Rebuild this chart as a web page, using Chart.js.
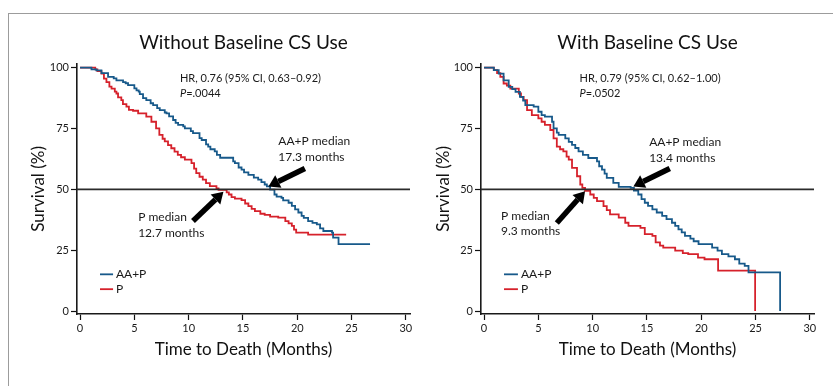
<!DOCTYPE html>
<html><head><meta charset="utf-8">
<script src="https://cdn.jsdelivr.net/npm/chart.js@4"></script>
<style>
html,body{margin:0;padding:0;background:#fff;width:833px;height:386px;overflow:hidden}
#frame{position:absolute;left:8px;top:13px;width:900px;height:400px;border-top:1px solid #9c9c9c;border-left:1px solid #9c9c9c}
canvas{position:absolute;top:0}
</style></head><body>
<div id="frame"></div>
<canvas id="c1" width="416" height="386" style="left:0"></canvas>
<canvas id="c2" width="417" height="386" style="left:416px"></canvas>
<script>
// ---- data ----
const xTicks = [0, 5, 10, 15, 20, 25, 30];
const yTicks = [0, 25, 50, 75, 100];
const medianLevel = 50;
const seriesNames = ['AA+P', 'P'];
const panelTitles = ['Without Baseline CS Use', 'With Baseline CS Use'];
const hrTexts = ['HR, 0.76 (95% CI, 0.63\u20130.92)', 'HR, 0.79 (95% CI, 0.62\u20131.00)'];
const pValues = ['=.0044', '=.0502'];
const aapMedians = ['17.3 months', '13.4 months'];
const pMedians = ['12.7 months', '9.3 months'];

// Without baseline CS use
const noCsAapTime = [0,1.05,1.5,1.97,2.58,3.1,3.35,3.96,4.2,4.42,5.0,5.2,5.4,5.5,5.8,6.1,6.5,6.73,7.1,7.34,7.8,7.96,8.2,8.57,8.8,9.03,9.5,9.65,10.2,10.4,11.0,11.2,11.6,11.8,12.0,12.4,12.6,12.9,14.1,14.26,14.6,14.87,15.1,15.5,16.0,16.4,16.7,17.0,17.2,17.5,17.9,18.1,18.55,18.7,19.2,19.5,19.8,20.1,20.4,20.6,21.0,21.4,21.8,22.1,22.4,23.2,23.3,23.8,26.7];
const noCsAapSurv = [100,99.3,98.9,97.8,96.2,95.6,94.8,94.1,93.6,92.8,91.5,90.7,90.2,89.1,87.5,86.7,85.4,84.6,83.4,82.6,81.6,81.2,80,78.5,77.3,76.5,75.9,75.1,73.9,73.1,71.1,70.3,68.5,67.6,66.5,65.6,64.2,63.0,61.5,60.8,59.0,58.1,57.0,56.0,54.8,54.0,53.0,52.0,51.2,49.9,47.9,47.0,46.5,45.5,44.5,43.2,41.8,40.5,39.1,38.3,37.0,36.2,35.6,34.0,32.9,32.2,30.2,27.5,27.5];
const noCsPTime = [0,1.4,1.6,1.97,2.2,2.43,2.7,2.9,3.2,3.35,3.5,3.8,3.95,4.27,4.5,4.88,5.35,6.1,6.57,7.0,7.3,7.6,7.8,8.1,8.4,8.7,9.0,9.3,9.65,10.26,10.5,10.7,11.0,11.3,11.6,11.95,12.56,12.75,13.5,13.7,13.95,14.26,14.87,15.2,15.5,15.8,16.1,16.6,17.0,17.5,18.25,18.9,19.2,19.5,19.7,19.9,21.0,24.5];
const noCsPSurv = [100,99.3,98.6,97.6,95.5,94.1,92.2,91.4,90.2,89.4,87.8,86.7,85.0,84.0,82.7,82.3,81.2,79.9,77.8,75.1,72.4,70.8,69.7,68.2,66.9,65.5,64.2,63.2,62.2,60.8,58.5,56.7,55.2,54.0,52.6,51.3,50.4,49.8,48.8,47.9,46.8,46.2,45.6,44.2,43.1,42.0,41.1,40.0,39.5,38.8,38.4,37.0,36.0,35.0,33.5,32.2,31.4,31.4];

// With baseline CS use
const csAapTime = [0,0.9,1.35,1.8,2.27,2.6,2.9,3.3,3.6,3.8,4.57,5.0,5.3,5.6,6.26,6.4,6.7,6.87,7.48,7.8,8.1,8.4,8.7,9.1,9.6,10.4,10.6,10.86,11.1,11.3,11.9,12.4,13.5,13.8,14.2,14.5,14.8,15.1,15.5,15.9,16.4,16.8,17.3,17.6,17.9,18.2,18.5,19.0,19.3,19.75,21.0,21.5,21.9,22.5,23.1,23.5,24.0,24.35,27.26,27.26];
const csAapSurv = [100,99,97.6,94.8,92.1,91.2,90.1,88,86.5,84.6,84,81.9,80.5,79.9,77.8,75.1,73.3,72.4,71,69.5,68.3,67,65.6,64.2,62.9,61.5,59.5,58.1,56.5,54.7,52.7,51,50.6,49.5,47.9,46,44.5,43.2,41.8,40.5,39.1,37.8,36.3,35,33.6,32.3,30.9,29.8,28.7,27.5,26.1,24.8,23.4,22.5,21.3,19.5,18.6,15.9,15.9,0];
const csPTime = [0,0.9,1.2,1.5,1.8,2.1,2.42,3.2,3.4,3.65,3.96,4.4,5.0,5.3,5.6,6.1,6.4,6.7,7.0,7.3,7.6,7.8,8.1,8.56,8.86,9.05,9.3,9.78,10.1,10.4,11.0,11.3,11.6,12.4,13.0,13.3,14.4,14.8,15.5,15.8,16.2,16.5,17.6,18.3,18.8,19.7,20.3,21.55,24.96,24.96];
const csPSurv = [100,99,97.8,96.2,93.5,92.6,91.4,89.4,88,86.7,82.6,80.5,79.2,77.8,76.5,74.4,71,67.6,66.5,65.6,63.5,62.2,58.8,55.4,52,50.6,49.4,47.9,46.5,45.2,43.1,41.5,39.7,38.4,36.3,35,34.2,31.6,30.9,28.2,26.9,26.1,24.8,23.8,23.4,22,21.3,16.6,16.6,0];

// ---- annotation placement (in axis units) ----
const notePlacement = [
  {hr:[9.2,95.5], p:[9.2,89.4], aapLbl:[18.25,69.8], pLbl:[5.35,38.4],
   aapArrow:[20.7,58.6,17.35,51.2], pArrow:[10.4,37.0,13.2,49.0], legend:[1.84,3.04,3.3,15.1,9.0]},
  {hr:[8.8,95.5], p:[8.8,89.4], aapLbl:[15.2,69.4], pLbl:[1.56,39.2],
   aapArrow:[17.1,58.6,13.75,51.2], pArrow:[6.7,36.2,9.3,49.2], legend:[1.84,3.12,3.4,15.1,9.0]}
];

const BLUE = '#17598a', RED = '#d6212b', INK = '#1a1a1a';
const FONT = 'Lato';
Chart.defaults.font.family = FONT;
Chart.defaults.color = INK;

function pts(t, s){ return t.map((v,i)=>({x:v, y:s[i]})); }

function arrow(ctx, x1, y1, x2, y2){
  const ang = Math.atan2(y2-y1, x2-x1);
  const headLen = 11, headHalf = 7, shaft = 5.5;
  const bx = x2 - headLen*Math.cos(ang), by = y2 - headLen*Math.sin(ang);
  ctx.save();
  ctx.strokeStyle = '#000'; ctx.fillStyle = '#000';
  ctx.lineWidth = shaft; ctx.lineCap = 'butt';
  ctx.beginPath(); ctx.moveTo(x1,y1); ctx.lineTo(bx,by); ctx.stroke();
  const nx = -Math.sin(ang), ny = Math.cos(ang);
  ctx.beginPath();
  ctx.moveTo(x2,y2);
  ctx.lineTo(bx + nx*headHalf, by + ny*headHalf);
  ctx.lineTo(bx - nx*headHalf, by - ny*headHalf);
  ctx.closePath(); ctx.fill();
  ctx.restore();
}

const notesPlugin = {
  id: 'kmNotes',
  afterDatasetsDraw(chart, args, o){
    const {ctx, chartArea, scales:{x, y}} = chart;
    const P = o.place;
    ctx.save();
    ctx.strokeStyle = '#2b2b2b'; ctx.lineWidth = 1.8;
    const ym = y.getPixelForValue(medianLevel);
    ctx.beginPath(); ctx.moveTo(chartArea.left, ym); ctx.lineTo(chartArea.right, ym); ctx.stroke();
    ctx.fillStyle = INK; ctx.textBaseline = 'middle'; ctx.textAlign = 'left';
    ctx.font = '11px ' + FONT;
    ctx.fillText(o.hr, x.getPixelForValue(P.hr[0]), y.getPixelForValue(P.hr[1]));
    ctx.font = 'italic 11px ' + FONT;
    const px = x.getPixelForValue(P.p[0]), py = y.getPixelForValue(P.p[1]);
    ctx.fillText('P', px, py);
    const w = ctx.measureText('P').width;
    ctx.font = '11px ' + FONT;
    ctx.fillText(o.pval, px + w, py);
    ctx.font = '12px ' + FONT;
    const ax = x.getPixelForValue(P.aapLbl[0]), ay = y.getPixelForValue(P.aapLbl[1]);
    ctx.fillText(seriesNames[0] + ' median', ax, ay);
    ctx.fillText(o.aapMed, ax, ay + 15.5);
    const bx = x.getPixelForValue(P.pLbl[0]), by = y.getPixelForValue(P.pLbl[1]);
    ctx.fillText(seriesNames[1] + ' median', bx, by);
    ctx.fillText(o.pMed, bx, by + 15.5);
    const A = P.aapArrow, B = P.pArrow;
    arrow(ctx, x.getPixelForValue(A[0]), y.getPixelForValue(A[1]), x.getPixelForValue(A[2]), y.getPixelForValue(A[3]));
    arrow(ctx, x.getPixelForValue(B[0]), y.getPixelForValue(B[1]), x.getPixelForValue(B[2]), y.getPixelForValue(B[3]));
    const L = P.legend;
    const lx1 = x.getPixelForValue(L[0]), lx2 = x.getPixelForValue(L[1]), tx = x.getPixelForValue(L[2]);
    [[BLUE, L[3], seriesNames[0]], [RED, L[4], seriesNames[1]]].forEach(([c, v, n])=>{
      const yy = y.getPixelForValue(v);
      ctx.strokeStyle = c; ctx.lineWidth = 1.8;
      ctx.beginPath(); ctx.moveTo(lx1, yy); ctx.lineTo(lx2, yy); ctx.stroke();
      ctx.fillStyle = INK; ctx.font = '12px ' + FONT;
      ctx.fillText(n, tx, yy);
    });
    ctx.restore();
  }
};

function makeChart(id, idx, aapT, aapS, pT, pS, pad, yW){
  return new Chart(document.getElementById(id), {
    type: 'line',
    data: { datasets: [
      {label: seriesNames[0], data: pts(aapT, aapS), borderColor: BLUE, borderWidth: 1.8, stepped: true, pointRadius: 0, fill: false},
      {label: seriesNames[1], data: pts(pT, pS), borderColor: RED, borderWidth: 1.8, stepped: true, pointRadius: 0, fill: false}
    ]},
    options: {
      responsive: false, animation: false, devicePixelRatio: 1,
      layout: {padding: pad},
      plugins: {
        legend: {display: false}, tooltip: {enabled: false},
        title: {display: true, text: panelTitles[idx], fullSize: false, color: '#111',
                font: {size: 19, weight: 'normal', family: FONT}, padding: {top: 11, bottom: 10}},
        kmNotes: {place: notePlacement[idx], hr: hrTexts[idx], pval: pValues[idx], aapMed: aapMedians[idx], pMed: pMedians[idx]}
      },
      scales: {
        x: {type: 'linear', min: -0.28, max: 30.38,
            afterBuildTicks: s => { s.ticks = xTicks.map(v => ({value: v})); },
            afterFit: s => { s.height = 50; },
            grid: {drawOnChartArea: false, drawTicks: true, tickLength: 6, tickColor: '#111', tickWidth: 1.2},
            border: {display: true, color: '#1a1a1a', width: 1.6},
            ticks: {padding: 2, color: INK, font: {size: 11}, maxRotation: 0},
            title: {display: true, text: 'Time to Death (Months)', color: '#111', font: {size: 17}, padding: {top: 4, bottom: 4}}},
        y: {type: 'linear', min: -1.2, max: 101.6,
            afterBuildTicks: s => { s.ticks = yTicks.map(v => ({value: v})); },
            afterFit: s => { s.width = yW; },
            grid: {drawOnChartArea: false, drawTicks: true, tickLength: 6, tickColor: '#111', tickWidth: 1.2},
            border: {display: true, color: '#1a1a1a', width: 1.6},
            ticks: {padding: 2, color: INK, font: {size: 11}},
            title: {display: true, text: 'Survival (%)', color: '#111', font: {size: 17}, padding: {top: 4, bottom: 4}}}
      }
    },
    plugins: [notesPlugin]
  });
}

makeChart('c1', 0, noCsAapTime, noCsAapSurv, noCsPTime, noCsPSurv, {left: 24, right: 6, top: 20, bottom: 22}, 53);
makeChart('c2', 1, csAapTime, csAapSurv, csPTime, csPSurv, {left: 13, right: 19, top: 20, bottom: 22}, 52);
</script>
</body></html>
